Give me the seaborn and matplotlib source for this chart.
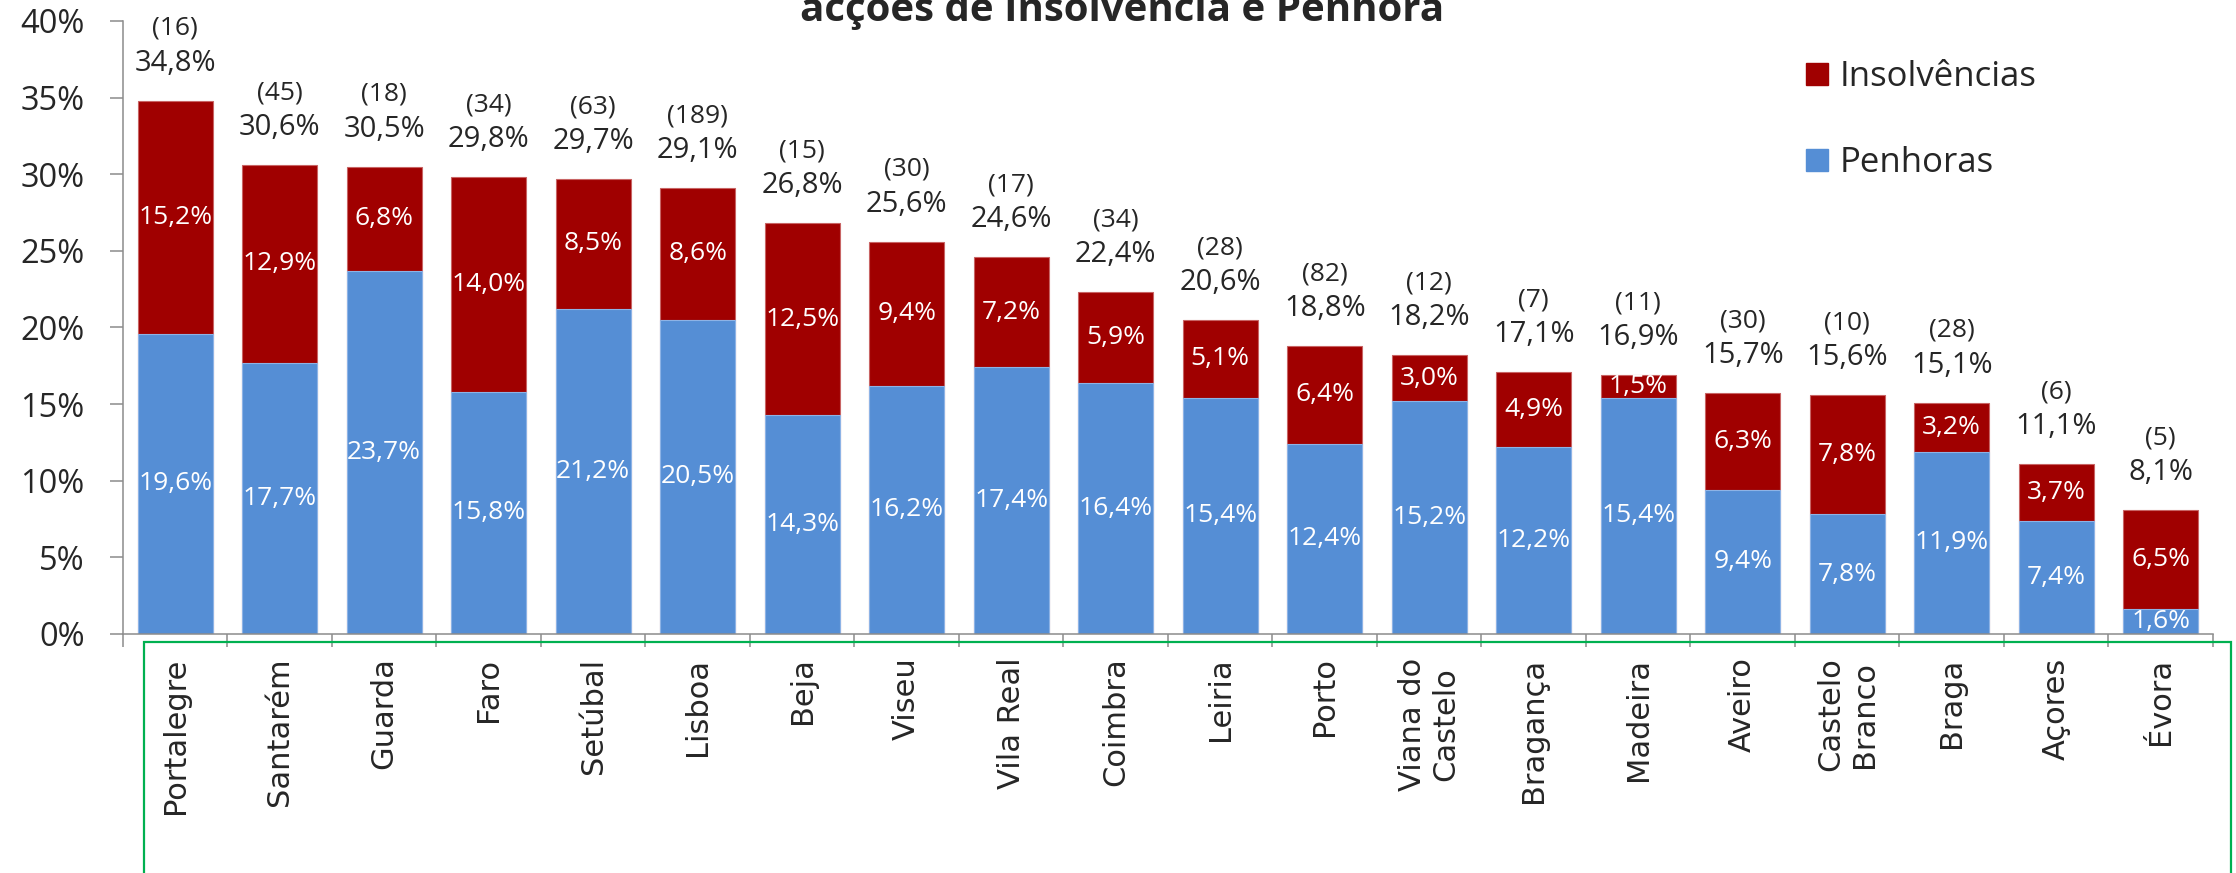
import matplotlib
matplotlib.use('Agg')
import matplotlib.pyplot as plt
from matplotlib.patches import Rectangle, Patch
import seaborn as sns
import pandas as pd
import numpy as np

# dados (% por distrito)
distritos = ['Portalegre', 'Santarém', 'Guarda', 'Faro', 'Setúbal', 'Lisboa', 'Beja', 'Viseu',
             'Vila Real', 'Coimbra', 'Leiria', 'Porto', 'Viana do\nCastelo', 'Bragança',
             'Madeira', 'Aveiro', 'Castelo\nBranco', 'Braga', 'Açores', 'Évora']
penhoras = [19.6, 17.7, 23.7, 15.8, 21.2, 20.5, 14.3, 16.2, 17.4, 16.4,
            15.4, 12.4, 15.2, 12.2, 15.4, 9.4, 7.8, 11.9, 7.4, 1.6]
insolvencias = [15.2, 12.9, 6.8, 14.0, 8.5, 8.6, 12.5, 9.4, 7.2, 5.9,
                5.1, 6.4, 3.0, 4.9, 1.5, 6.3, 7.8, 3.2, 3.7, 6.5]
totais = [34.8, 30.6, 30.5, 29.8, 29.7, 29.1, 26.8, 25.6, 24.6, 22.4,
          20.6, 18.8, 18.2, 17.1, 16.9, 15.7, 15.6, 15.1, 11.1, 8.1]
n_accoes = [16, 45, 18, 34, 63, 189, 15, 30, 17, 34, 28, 82, 12, 7, 11, 30, 10, 28, 6, 5]
yticks = [0, 5, 10, 15, 20, 25, 30, 35, 40]

RED = '#A00000'
BLUE = '#558ED5'
GRAY = '#8C8C8C'
GREEN = '#00B050'

sns.set_style('white')
plt.rcParams['font.family'] = ['Open Sans', 'DejaVu Sans']


def fmt(v):
    return f'{v:.1f}'.replace('.', ',') + '%'


df = pd.DataFrame(dict(distrito=distritos, penhoras=penhoras, insolvencias=insolvencias))
df['topo'] = df['penhoras'] + df['insolvencias']

fig = plt.figure(figsize=(22.36, 8.73), dpi=100)
ax = fig.add_axes([0.0550, 0.2738, 0.9347, 0.7022])

# barras empilhadas: topo (vermelho) por baixo, penhoras (azul) por cima
sns.barplot(data=df, x='distrito', y='topo', color=RED, saturation=1, width=0.72,
            errorbar=None, ax=ax, edgecolor='#C86464', linewidth=0.8)
sns.barplot(data=df, x='distrito', y='penhoras', color=BLUE, saturation=1, width=0.72,
            errorbar=None, ax=ax, edgecolor='#8DB3E6', linewidth=0.8)

for i in range(len(distritos)):
    p, ins = penhoras[i], insolvencias[i]
    ax.text(i, p / 2, fmt(p), color='white', ha='center', va='center', fontsize=19)
    ax.text(i, p + ins / 2, fmt(ins), color='white', ha='center', va='center', fontsize=19)
    ax.annotate(fmt(totais[i]), (i, p + ins), xytext=(0, 27), textcoords='offset points',
                ha='center', va='center', fontsize=21)
    ax.annotate(f'({n_accoes[i]})', (i, p + ins), xytext=(0, 52), textcoords='offset points',
                ha='center', va='center', fontsize=19)

ax.set_ylim(0, 40)
ax.set_xlim(-0.5, len(distritos) - 0.5)
ax.set_xlabel('')
ax.set_ylabel('')
ax.set_yticks(yticks)
ax.set_yticklabels([f'{v}%' for v in yticks])
ax.tick_params(axis='y', length=9.5, width=1.1, color=GRAY, pad=18, labelsize=23.5, left=True)

ax.set_xticks(np.arange(-0.5, len(distritos), 1))
ax.set_xticklabels([])
ax.set_xticks(np.arange(len(distritos)), minor=True)
ax.set_xticklabels(distritos, minor=True, rotation=90, fontsize=22,
                   multialignment='center', family='DejaVu Sans')
ax.tick_params(axis='x', which='major', length=9.5, width=1.1, color=GRAY, bottom=True)
ax.tick_params(axis='x', which='minor', length=0, pad=17)

for s in ['top', 'right']:
    ax.spines[s].set_visible(False)
for s in ['left', 'bottom']:
    ax.spines[s].set_color(GRAY)
    ax.spines[s].set_linewidth(1.1)

fig.text(0.502, 1 - 21 / 873, 'acções de Insolvência e Penhora', ha='center', va='baseline',
         fontsize=29, fontweight='bold')

handles = [Patch(color=RED), Patch(color=BLUE)]
fig.legend(handles, ['Insolvências', 'Penhoras'], loc='upper left',
           bbox_to_anchor=(0.8078, 0.931), frameon=False, prop={'size': 25},
           handlelength=0.62, handleheight=0.62, handletextpad=0.35, labelspacing=1.5,
           borderpad=0, borderaxespad=0)

# moldura verde por baixo do eixo
fig.patches.append(Rectangle((144 / 2236, -0.05), (2231 - 144) / 2236, 0.05 + 1 - 642 / 873,
                             transform=fig.transFigure, fill=False, edgecolor=GREEN, lw=1.6))

fig.savefig('out.png', dpi=100)
